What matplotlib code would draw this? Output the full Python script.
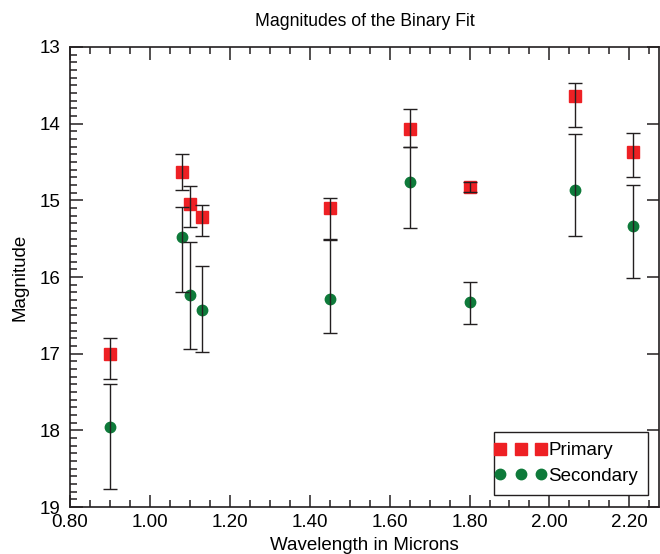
import matplotlib.pyplot as plt
from matplotlib.ticker import MultipleLocator, FormatStrFormatter
from matplotlib.legend_handler import HandlerLine2D

plt.rcParams['font.family'] = ['Liberation Sans', 'DejaVu Sans']

# wavelengths (microns)
wave = [0.90, 1.08, 1.10, 1.13, 1.45, 1.65, 1.80, 2.065, 2.21]

# primary magnitudes and asymmetric errors (lower = toward brighter, upper = toward fainter)
prim_mag = [17.00, 14.63, 15.05, 15.22, 15.10, 14.07, 14.82, 13.64, 14.37]
prim_err_lo = [0.20, 0.23, 0.24, 0.16, 0.13, 0.26, 0.06, 0.17, 0.25]
prim_err_hi = [0.33, 0.24, 0.30, 0.24, 0.40, 0.23, 0.07, 0.40, 0.32]

# secondary magnitudes and errors
sec_mag = [17.96, 15.48, 16.23, 16.43, 16.29, 14.76, 16.33, 14.86, 15.34]
sec_err_lo = [0.56, 0.39, 0.68, 0.57, 0.77, 0.46, 0.26, 0.73, 0.54]
sec_err_hi = [0.80, 0.71, 0.71, 0.55, 0.44, 0.60, 0.28, 0.60, 0.67]

fig = plt.figure(figsize=(6.6, 5.54), dpi=100)
ax = fig.add_axes([0.106, 0.0848, 0.893, 0.8304])

p_line, = ax.plot(wave, prim_mag, 's', color='#ee2024', markersize=8, label='Primary', zorder=2)
s_line, = ax.plot(wave, sec_mag, 'o', color='#0e7a3a', markersize=7.5, label='Secondary', zorder=2)

ax.errorbar(wave, prim_mag, yerr=[prim_err_lo, prim_err_hi], fmt='none',
            ecolor='#231f20', elinewidth=1, capsize=5, capthick=1, zorder=3)
ax.errorbar(wave, sec_mag, yerr=[sec_err_lo, sec_err_hi], fmt='none',
            ecolor='#231f20', elinewidth=1, capsize=5, capthick=1, zorder=3)

ax.set_xlim(0.80, 2.275)
ax.set_ylim(19, 13)  # magnitudes: brighter up

ax.xaxis.set_major_locator(MultipleLocator(0.2))
ax.xaxis.set_minor_locator(MultipleLocator(0.05))
ax.xaxis.set_major_formatter(FormatStrFormatter('%.2f'))
ax.yaxis.set_major_locator(MultipleLocator(1))
ax.yaxis.set_minor_locator(MultipleLocator(0.1))

ax.tick_params(which='both', direction='in', top=True, right=True, labelsize=13.5, color='#231f20')
ax.tick_params(which='major', length=9, width=1.1)
ax.tick_params(which='minor', length=5, width=1.1, right=False)
ax.tick_params(axis='y', which='major', pad=7)
ax.tick_params(axis='x', which='major', pad=5)
for s in ax.spines.values():
    s.set_linewidth(1.2)
    s.set_color('#231f20')

ax.set_title('Magnitudes of the Binary Fit', fontsize=12.7, pad=15)
ax.set_xlabel('Wavelength in Microns', fontsize=13.5, labelpad=4)
ax.set_ylabel('Magnitude', fontsize=13.5, labelpad=8)

# markers pushed slightly past the handle ends so the box hugs them like the original
hmap = {p_line: HandlerLine2D(marker_pad=-0.23, numpoints=3),
        s_line: HandlerLine2D(marker_pad=-0.23, numpoints=3)}
leg = ax.legend(loc='lower right', bbox_to_anchor=(0.981, 0.026), borderaxespad=0,
                handler_map=hmap, handlelength=1.73, handletextpad=0.6, fontsize=13.5,
                fancybox=False, framealpha=1, edgecolor='#231f20', borderpad=0.55,
                labelspacing=0.45)
leg.get_frame().set_linewidth(1.0)

fig.savefig('out.png', dpi=100)
